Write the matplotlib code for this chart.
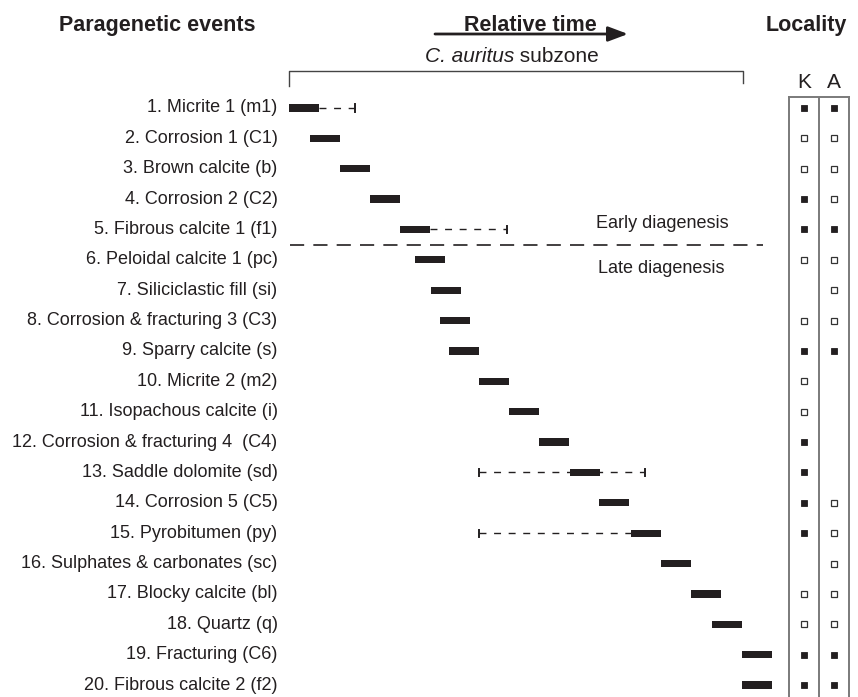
import matplotlib.pyplot as plt

plt.rcParams['font.family'] = ['Liberation Sans', 'DejaVu Sans']

INK = '#231f20'

events = ['1. Micrite 1 (m1)', '2. Corrosion 1 (C1)', '3. Brown calcite (b)',
          '4. Corrosion 2 (C2)', '5. Fibrous calcite 1 (f1)', '6. Peloidal calcite 1 (pc)',
          '7. Siliciclastic fill (si)', '8. Corrosion & fracturing 3 (C3)',
          '9. Sparry calcite (s)', '10. Micrite 2 (m2)', '11. Isopachous calcite (i)',
          '12. Corrosion & fracturing 4  (C4)', '13. Saddle dolomite (sd)',
          '14. Corrosion 5 (C5)', '15. Pyrobitumen (py)', '16. Sulphates & carbonates (sc)',
          '17. Blocky calcite (bl)', '18. Quartz (q)', '19. Fracturing (C6)',
          '20. Fibrous calcite 2 (f2)']

# relative time of each event (arbitrary units)
start = [0.0, 0.7, 1.7, 2.7, 3.7, 4.2, 4.73, 5.03, 5.33, 6.33, 7.33, 8.33,
         9.37, 10.33, 11.4, 12.4, 13.4, 14.1, 15.1, 15.1]
duration = [1.0] * 20

# uncertain (dashed) extensions
ext_row = [1, 5, 13, 15]
ext_from = [1.0, 4.7, 6.33, 6.33]
ext_to = [2.2, 7.27, 11.87, 11.4]
ext_ticks = [[2.2], [7.27], [6.33, 11.87], [6.33]]

subzone_end = 15.13
early_late_row = 5.5

# locality: F = filled, O = open, '' = absent
loc_K = ['F', 'O', 'O', 'F', 'F', 'O', '', 'O', 'F', 'O', 'O', 'F', 'F', 'F', 'F',
         '', 'O', 'O', 'F', 'F']
loc_A = ['F', 'O', 'O', 'O', 'F', 'O', 'O', 'O', 'F', '', '', '', '', 'O', 'O',
         'O', 'O', 'O', 'F', 'F']

# layout (pixels of the 858x697 canvas)
W, H = 858, 697
X0, PXU = 289, 30.0      # time 0 at x=289 px, 30 px per unit
Y1, PXR = 108, 30.37     # row 1 at y=108 px, 30.37 px per row

fig = plt.figure(figsize=(W / 100, H / 100), dpi=100)
ax = fig.add_axes([0, 0, 1, 1])
ax.set_xlim(-X0 / PXU, (W - X0) / PXU)
ax.set_ylim(1 + (H - Y1) / PXR, 1 - Y1 / PXR)
ax.axis('off')

rows = list(range(1, len(events) + 1))
ax.barh(rows, duration, left=start, height=0.24, color=INK)

for r, lab in zip(rows, events):
    ax.text(-0.38, r, lab, ha='right', va='center', fontsize=13, color=INK)

for r, a, b, ticks in zip(ext_row, ext_from, ext_to, ext_ticks):
    ax.plot([a, b], [r, r], color=INK, lw=1.0, ls=(0, (5, 5.5)))
    for t in ticks:
        ax.plot([t, t], [r - 0.12, r + 0.12], color=INK, lw=1.4)

# subzone bracket
top = 1 - (Y1 - 71) / PXR
ax.plot([0, 0, subzone_end, subzone_end], [top + 0.5, top, top, top + 0.4],
        color='#444444', lw=1.0)
t1 = ax.text((425 - X0) / PXU, 1 - (Y1 - 62) / PXR, 'C. auritus', ha='left',
             va='baseline', fontsize=15, style='italic', color=INK)
ax.annotate(' subzone', xy=(1, 0), xycoords=t1, ha='left', va='bottom',
            fontsize=15, color=INK)

# early / late diagenesis divider
ax.plot([0.03, 15.8], [early_late_row, early_late_row], color=INK, lw=1.2,
        ls=(0, (8.5, 5.5)))
ax.text(12.45, early_late_row - 0.7, 'Early diagenesis', ha='center', va='center',
        fontsize=13, color=INK)
ax.text(12.4, early_late_row + 0.8, 'Late diagenesis', ha='center', va='center',
        fontsize=13, color=INK)

# headers
base = 1 - 31 / H
fig.text(157 / W, base, 'Paragenetic events', ha='center', va='baseline',
         fontsize=15.5, fontweight='bold', color=INK)
fig.text(530 / W, base, 'Relative time', ha='center', va='baseline',
         fontsize=15.5, fontweight='bold', color=INK)
fig.text(806 / W, base, 'Locality', ha='center', va='baseline',
         fontsize=15.5, fontweight='bold', color=INK)
fig.add_artist(plt.matplotlib.patches.FancyArrowPatch(
    (435 / W, 1 - 34 / H), (628 / W, 1 - 34 / H), transform=fig.transFigure,
    arrowstyle='-|>,head_length=0.8,head_width=0.3', mutation_scale=15,
    lw=2.0, color=INK, shrinkA=0, shrinkB=0))

# locality panel
lax = fig.add_axes([789 / W, 0, 60 / W, 1 - 97 / H])
lax.set_xlim(0, 2)
lax.set_ylim(1 + (H - Y1) / PXR, 1 - (Y1 - 97) / PXR)
lax.set_xticks([])
lax.set_yticks([])
for s in ['left', 'right', 'top']:
    lax.spines[s].set_color('#7a7a7a')
    lax.spines[s].set_linewidth(1.4)
lax.spines['bottom'].set_visible(False)
lax.axvline(1, color='#7a7a7a', lw=1.4)

for col, (name, marks) in enumerate([('K', loc_K), ('A', loc_A)]):
    x = col + 0.5
    lax.text(x, 1 - (Y1 - 83) / PXR, name, ha='center', va='center', fontsize=15,
             color=INK, clip_on=False)
    for r, m in zip(rows, marks):
        if m == 'F':
            lax.plot(x, r, 's', ms=4.6, mfc=INK, mec=INK, mew=0.6)
        elif m == 'O':
            lax.plot(x, r, 's', ms=4.3, mfc='white', mec='#333333', mew=0.9)

fig.savefig('out.png', dpi=100, facecolor='white')
